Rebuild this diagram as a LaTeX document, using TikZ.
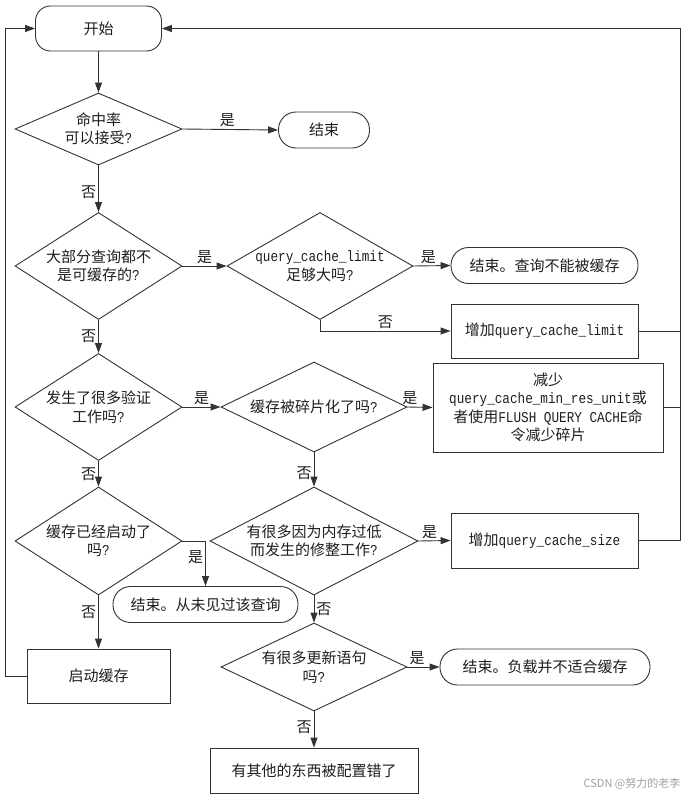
\documentclass[tikz,border=0pt]{standalone}
\usepackage{fontspec}
\setmainfont{Noto Sans CJK SC}
\newfontfamily\lat[FakeStretch=0.845]{Liberation Mono}
\usetikzlibrary{shapes.geometric,arrows.meta}
\definecolor{linec}{HTML}{333333}
\definecolor{textc}{HTML}{1E1E1E}
\definecolor{markc}{HTML}{A0A0A0}
\tikzset{
  conn/.style={draw=linec, line width=0.9pt},
  arr/.style={conn, -{Triangle[length=10pt,width=7pt]}},
  dia/.style={draw=linec, line width=0.9pt, diamond, inner sep=0pt},
  procbox/.style={draw=linec, line width=0.9pt, rectangle, inner sep=0pt},
  term/.style={draw=linec, line width=0.9pt, rectangle, inner sep=0pt},
  txt/.style={align=center, text=textc, inner sep=0pt},
  lbl/.style={text=textc, inner sep=2pt}
}
\begin{document}
\begin{tikzpicture}[x=1pt,y=-1pt,font=\fontsize{15}{18.5}\selectfont]
\useasboundingbox (0,0) rectangle (693,798);
% terminals
\node[term, rounded corners=15pt, minimum width=126pt, minimum height=45pt] (start) at (98.5,28.5) {};
\node[txt] (tstart) at (start) {开始};
\node[term, rounded corners=17.5pt, minimum width=91pt, minimum height=36pt] (end1) at (324,130) {};
\node[txt] (tend1) at (end1) {结束};
\node[term, rounded corners=17.5pt, minimum width=187pt, minimum height=36pt] (end2) at (544.5,265.5) {};
\node[txt] (tend2) at (end2) {结束。查询不能被缓存};
\node[term, rounded corners=17.5pt, minimum width=185pt, minimum height=36pt] (end3) at (205.5,604.5) {};
\node[txt] (tend3) at (end3) {结束。从未见过该查询};
\node[term, rounded corners=17.5pt, minimum width=210pt, minimum height=36pt] (end4) at (545,667) {};
\node[txt] (tend4) at (end4) {结束。负载并不适合缓存};
% decisions
\node[dia, minimum width=167pt, minimum height=72pt] (d1) at (98.5,129) {};
\node[txt] (td1) at (d1) {命中率\\可以接受{\lat ?}};
\node[dia, minimum width=167pt, minimum height=107pt] (d2) at (98.5,266) {};
\node[txt] (td2) at (d2) {大部分查询都不\\是可缓存的{\lat ?}};
\node[dia, minimum width=186pt, minimum height=107pt] (d3) at (320,266) {};
\node[txt] (td3) at (d3) {{\lat query\_cache\_limit}\\足够大吗{\lat ?}};
\node[dia, minimum width=167pt, minimum height=107pt] (d4) at (98.5,407) {};
\node[txt] (td4) at (d4) {发生了很多验证\\工作吗{\lat ?}};
\node[dia, minimum width=186pt, minimum height=90pt] (d5) at (314,407) {};
\node[txt] (td5) at (d5) {缓存被碎片化了吗{\lat ?}};
\node[dia, minimum width=167pt, minimum height=108pt] (d6) at (98.5,541) {};
\node[txt] (td6) at (d6) {缓存已经启动了\\吗{\lat ?}};
\node[dia, minimum width=208pt, minimum height=108pt] (d7) at (314,541) {};
\node[txt] (td7) at (d7) {有很多因为内存过低\\而发生的修整工作{\lat ?}};
\node[dia, minimum width=186pt, minimum height=88pt] (d8) at (314,667) {};
\node[txt] (td8) at (d8) {有很多更新语句\\吗{\lat ?}};
% process boxes
\node[procbox, minimum width=187pt, minimum height=54pt] (b1) at (544.5,331) {};
\node[txt] (tb1) at (b1) {增加{\lat query\_cache\_limit}};
\node[procbox, minimum width=230pt, minimum height=89pt] (b2) at (548,407.5) {};
\node[txt] (tb2) at (b2) {减少\\{\lat query\_cache\_min\_res\_unit}或\\者使用{\lat FLUSH QUERY CACHE}命\\令减少碎片};
\node[procbox, minimum width=187pt, minimum height=55pt] (b3) at (544.5,540.5) {};
\node[txt] (tb3) at (b3) {增加{\lat query\_cache\_size}};
\node[procbox, minimum width=143pt, minimum height=54pt] (b4) at (98.5,676) {};
\node[txt] (tb4) at (b4) {启动缓存};
\node[procbox, minimum width=208pt, minimum height=45pt] (b5) at (314,770.5) {};
\node[txt] (tb5) at (b5) {有其他的东西被配置错了};
% return rails
\coordinate (R) at (680,28.5);
\coordinate (L) at (5,28.5);
% connectors
\draw[arr] (start.south) -- (d1.north);
\draw[arr] (d1.east) -- node[lbl, above, pos=0.47] {是} (end1.west);
\draw[arr] (d1.south) -- node[lbl, left, pos=0.57] {否} (d2.north);
\draw[arr] (d2.east) -- node[lbl, above] {是} (d3.west);
\draw[arr] (d3.east) -- node[lbl, above, pos=0.4] {是} (end2.west);
\draw[arr] (d3.south) |- node[lbl, above, pos=0.75] {否} (b1.west);
\draw[arr] (d2.south) -- node[lbl, left] {否} (d4.north);
\draw[arr] (d4.east) -- node[lbl, above] {是} (d5.west);
\draw[arr] (d5.east) -- node[lbl, above, pos=0.1] {是} (b2.west);
\draw[arr] (d4.south) -- node[lbl, left] {否} (d6.north);
\draw[arr] (d5.south) -- node[lbl, left, pos=0.6] {否} (d7.north);
\draw[arr] (d7.east) -- node[lbl, above, pos=0.35] {是} (b3.west);
\draw[arr] (d6.east) -| node[lbl, left, pos=0.68] {是} (end3.north);
\draw[arr] (d6.south) -- node[lbl, left, pos=0.31] {否} (b4.north);
\draw[arr] (d7.south) -- node[lbl, right] {否} (d8.north);
\draw[arr] (d8.east) -- node[lbl, above, pos=0.3] {是} (end4.west);
\draw[arr] (d8.south) -- node[lbl, left, pos=0.45] {否} (b5.north);
\draw[conn] (b1.east) -- (b1.east -| R);
\draw[conn] (b2.east) -- (b2.east -| R);
\draw[arr] (b3.east) -- (b3.east -| R) -- (R) -- (start.east);
\draw[arr] (b4.west) -- (b4.west -| L) -- (L) -- (start.west);
% watermark
\node[text=markc, font=\fontsize{11}{13}\selectfont, inner sep=0pt] (mark) at (632,784) {CSDN @努力的老李};
\end{tikzpicture}
\end{document}
